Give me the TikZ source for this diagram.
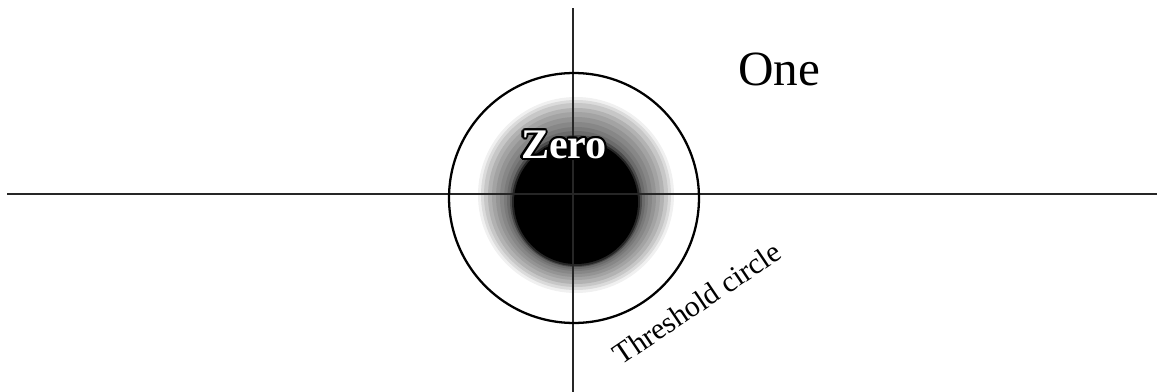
\documentclass[tikz,border=0pt]{standalone}
\usepackage{fontspec}
\setmainfont{Liberation Serif}
\newfontfamily\labfont{Liberation Serif}
\usetikzlibrary{positioning,calc}

\begin{document}
\begin{tikzpicture}[x=0.02cm, y=-0.02cm,
  axis/.style={draw=black!85, line width=0.6pt},
  thr/.style={draw=black, line width=1.3pt},
  biglab/.style={font=\labfont\fontsize{28}{32}\selectfont, inner sep=0pt},
  zerolab/.style={font=\labfont\fontsize{24}{28}\selectfont\bfseries, inner sep=0pt},
  thrlab/.style={font=\labfont\fontsize{17}{20}\selectfont, inner sep=0pt}]
\useasboundingbox (0,0) rectangle (1157,392);

% --- axes ends ---
\coordinate (xl) at (7,194);
\coordinate (xr) at (1157,194);
\coordinate (yt) at (573,8);
\coordinate (yb) at (573,392);
\coordinate (c) at (574,198);

% --- zero region: grey halo fading out, dark core (rings, outer first) ---
\foreach \r/\k/\cy in {98/6/195, 95/14/195, 92/22/195, 88/30/196, 84/36/196,
                       80/42/197, 76/47/198, 72/52/199, 69/58/200, 66/70/201,
                       64/85/202, 62/100/202}
  \fill[black!\k] (576,\cy) circle[radius=\r*0.02cm];

% --- axes and threshold circle ---
\draw[axis] (xl) -- (xr);
\draw[axis] (yt) -- (yb);
\draw[thr] (c) circle[radius=2.5cm];

% --- labels ---
\foreach \a in {0,30,...,330}
  \node[zerolab, text=black] at ($(564,145)+(\a:1.2pt)$) {Zero};
\node[zerolab, text=white] (zero) at (564,145) {Zero};
\node[biglab] (one) at (779,69) {One};
\node[thrlab, rotate=34] (thr) at (697,303) {Threshold circle};
\end{tikzpicture}
\end{document}
